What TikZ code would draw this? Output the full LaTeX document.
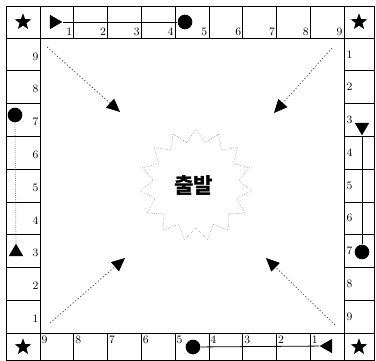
\documentclass[tikz,border=0pt]{standalone}
\usepackage{fontspec}
\newfontfamily\krfont{Noto Sans CJK KR}
\usetikzlibrary{arrows.meta, shapes.geometric}

\begin{document}
\begin{tikzpicture}[
    x=0.75pt, y=-0.75pt,
    >=Stealth,
    font=\small,
    gridline/.style={line width=0.5pt},
    num/.style={font=\fontsize{8.5}{9}\selectfont, inner sep=1pt},
    corner/.style={star, star points=5, star point ratio=2.4, fill=black,
                   inner sep=0pt, minimum size=13pt},
    dotmark/.style={circle, fill=black, inner sep=0pt, minimum size=11pt},
    trimark/.style={regular polygon, regular polygon sides=3, fill=black,
                    inner sep=0pt, minimum size=12.5pt},
    track/.style={line width=0.6pt},
    guide/.style={gray!60!black, line width=0.55pt, dash pattern=on 1pt off 1.5pt,
                  -{Triangle[length=10pt, width=9pt, color=black]}},
]

\useasboundingbox (0,0) rectangle (376,361);

% ---- board frame ----
\draw[gridline] (6,6) rectangle (374,360);
\draw[gridline] (6,38) -- (374,38);
\draw[gridline] (6,333) -- (374,333);
\draw[gridline] (40,6) -- (40,360);
\draw[gridline] (344,6) -- (344,360);

% ---- cell dividers ----
\foreach \i in {1,...,8} {
  \draw[gridline] ({40+33.78*\i},6) -- ({40+33.78*\i},38);
  \draw[gridline] ({40+33.78*\i},333) -- ({40+33.78*\i},360);
  \draw[gridline] (6,{38+32.78*\i}) -- (40,{38+32.78*\i});
  \draw[gridline] (344,{38+32.78*\i}) -- (374,{38+32.78*\i});
}

% ---- cell numbers (clockwise, 1..9 on every side) ----
\foreach \i in {1,...,9} {
  \node[num, anchor=south east] (top\i)    at ({40+33.78*\i}, 37) {\i};
  \node[num, anchor=west]       (right\i)  at (345, {38+32.78*\i-16.4}) {\i};
  \node[num, anchor=north west] (bottom\i) at ({344-33.78*\i}, 334) {\i};
  \node[num, anchor=east]       (left\i)   at (40, {333-32.78*\i+18.4}) {\i};
}

% ---- corner stars ----
\node[corner] (starTL) at (23,22)  {};
\node[corner] (starTR) at (359,22) {};
\node[corner] (starBL) at (23,347) {};
\node[corner] (starBR) at (359,347) {};

% ---- pieces on the track ----
% top side
\node[trimark, shape border rotate=-90] (topTri) at (54,22) {};
\node[dotmark] (topDot) at (185,22) {};
\draw[track] (topTri) -- (topDot);

% right side
\node[trimark, shape border rotate=180] (rightTri) at (362,127) {};
\node[dotmark] (rightDot) at (362,252) {};
\draw[track] (rightTri) -- (rightDot);

% bottom side
\node[trimark, shape border rotate=90] (bottomTri) at (328,346) {};
\node[dotmark] (bottomDot) at (193,347) {};
\draw[track] (bottomTri) -- (bottomDot);

% left side
\node[trimark] (leftTri) at (16,252) {};
\node[dotmark] (leftDot) at (15,115) {};
\draw[track, densely dotted, gray] (leftDot) -- (leftTri);

% ---- start burst ----
\node[star, star points=15, star point ratio=1.3, minimum size=84pt,
      draw=gray, densely dotted, line width=0.4pt, inner sep=0pt]
  (burst) at (196,185) {};
\node[font=\krfont\bfseries\fontsize{16}{16}\selectfont] (start) at (194,185) {출발};

% ---- guide arrows towards the start ----
\coordinate (tlFrom) at (47,47);   \coordinate (tlTo) at (120,112);
\coordinate (trFrom) at (332,48);  \coordinate (trTo) at (274,113);
\coordinate (blFrom) at (50,323);  \coordinate (blTo) at (125,258);
\coordinate (brFrom) at (335,325); \coordinate (brTo) at (266,258);

\draw[guide] (tlFrom) -- (tlTo);
\draw[guide] (trFrom) -- (trTo);
\draw[guide] (blFrom) -- (blTo);
\draw[guide] (brFrom) -- (brTo);

\end{tikzpicture}
\end{document}
